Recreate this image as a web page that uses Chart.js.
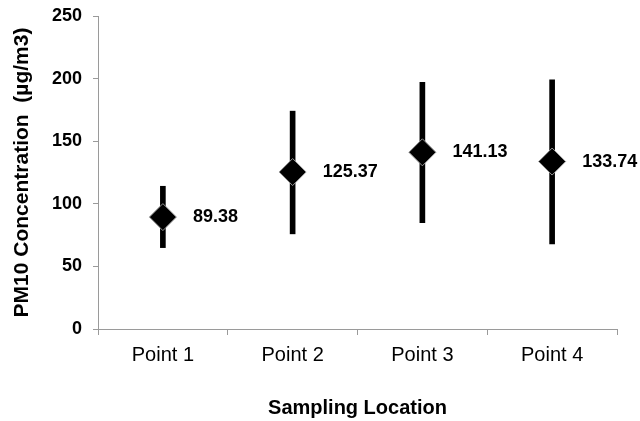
<!DOCTYPE html>
<html>
<head>
<meta charset="utf-8">
<script src="https://cdn.jsdelivr.net/npm/chart.js@4/dist/chart.umd.min.js"></script>
<style>
  html, body { margin: 0; padding: 0; background: #fff; }
  #wrap { width: 640px; height: 421px; }
</style>
</head>
<body>
<div id="wrap"><canvas id="c" width="640" height="421"></canvas></div>
<script>
const categories = ['Point 1', 'Point 2', 'Point 3', 'Point 4'];
const meanValues = [89.38, 125.37, 141.13, 133.74];
const errorLow = [65, 76, 85, 68];
const errorHigh = [114, 174, 197, 199];
const yTicks = [0, 50, 100, 150, 200, 250];

const FONT = '"Liberation Sans", Arial, sans-serif';
const AXIS = '#9a9a9a';

const valueLabels = {
  id: 'valueLabels',
  afterDatasetsDraw(chart) {
    const meta = chart.getDatasetMeta(1);
    const ctx = chart.ctx;
    ctx.save();
    ctx.font = 'bold 18px ' + FONT;
    ctx.fillStyle = '#000';
    ctx.textAlign = 'left';
    ctx.textBaseline = 'middle';
    meta.data.forEach((pt, i) => {
      ctx.fillText(meanValues[i].toFixed(2), pt.x + 30, pt.y);
    });
    ctx.restore();
  }
};

new Chart(document.getElementById('c'), {
  type: 'bar',
  data: {
    labels: categories,
    datasets: [
      {
        type: 'bar',
        data: categories.map((c, i) => [errorLow[i], errorHigh[i]]),
        backgroundColor: '#000',
        borderWidth: 0,
        barThickness: 5,
        order: 1
      },
      {
        type: 'line',
        data: meanValues,
        showLine: false,
        pointStyle: 'rectRot',
        pointRadius: 13.5,
        pointBackgroundColor: '#000',
        pointBorderColor: '#999',
        pointBorderWidth: 1,
        order: 0
      }
    ]
  },
  options: {
    responsive: false,
    animation: false,
    events: [],
    layout: { padding: { top: 16, right: 23, left: 0, bottom: 0 } },
    plugins: { legend: { display: false }, tooltip: { enabled: false } },
    scales: {
      x: {
        offset: true,
        grid: { display: true, offset: true, drawOnChartArea: false, drawTicks: true, tickLength: 6, color: AXIS },
        border: { display: true, color: AXIS, width: 1 },
        ticks: { color: '#000', font: { family: FONT, size: 20 }, padding: 8, maxRotation: 0 },
        title: { display: true, text: 'Sampling Location', color: '#000', font: { family: FONT, size: 20, weight: 'bold' }, padding: { top: 0, bottom: 1 } },
        afterFit(scale) { scale.height = 92; }
      },
      y: {
        min: 0,
        max: 250,
        afterBuildTicks(scale) { scale.ticks = yTicks.map(v => ({ value: v })); },
        grid: { display: true, drawOnChartArea: false, drawTicks: true, tickLength: 5, color: AXIS },
        border: { display: true, color: AXIS, width: 1 },
        ticks: { color: '#000', font: { family: FONT, size: 18, weight: 'bold' }, padding: 11 },
        title: { display: true, text: 'PM10 Concentration  (µg/m3)', color: '#000', font: { family: FONT, size: 21, weight: 'bold' }, padding: { top: 10, bottom: 0 } },
        afterFit(scale) { scale.width = 98; scale.paddingTop = 0; scale.paddingBottom = 0; }
      }
    }
  },
  plugins: [valueLabels]
});
</script>
</body>
</html>
